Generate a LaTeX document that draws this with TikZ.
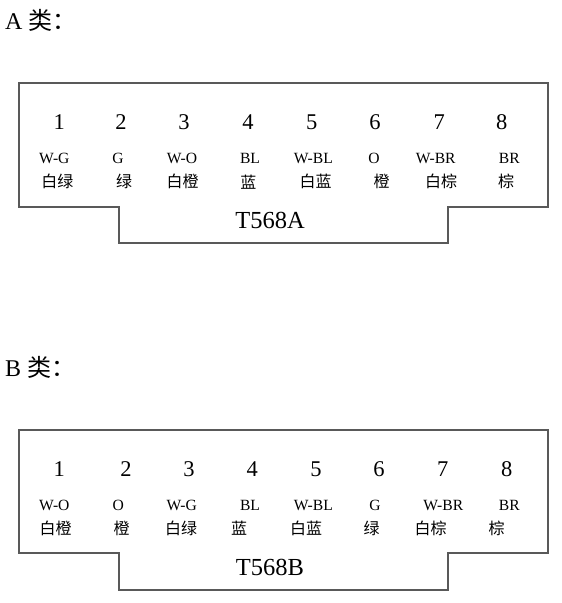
\documentclass[tikz,border=0pt]{standalone}
\usepackage{fontspec}
\setmainfont{Liberation Serif}
\newfontfamily\cjk{Noto Sans CJK SC}
\begin{document}
\begin{tikzpicture}[x=1pt,y=-1pt,
  num/.style={font=\fontsize{22.5}{22.5}\selectfont, anchor=base, inner sep=0pt},
  lab/.style={font=\fontsize{15.6}{15.6}\selectfont, anchor=base, inner sep=0pt},
  cn/.style={font=\cjk\fontsize{16}{16}\selectfont, anchor=center, inner sep=0pt},
  ttl/.style={font=\fontsize{24}{24}\selectfont, anchor=base west, inner sep=0pt},
  std/.style={font=\fontsize{24.5}{24.5}\selectfont, anchor=base, inner sep=0pt},
  outline/.style={draw=black!65, line width=1.2pt}]
\useasboundingbox (0,0) rectangle (562,603);
% ---------- A ----------
\node[ttl] (titleA) at (5,29.3) {A {\cjk 类：}};
\draw[outline] (19,83) -- (548,83) -- (548,207) -- (448,207) -- (448,243)
  -- (119,243) -- (119,207) -- (19,207) -- cycle;
\foreach \x [count=\i] in {59.3,121,184,248,311.7,375,439.3,501.7}
  \node[num] (an\i) at (\x,129.3) {\i};
\foreach \x/\t [count=\i] in {54.3/W-G,118/G,182/W-O,250/BL,313.3/W-BL,374/O,435.7/W-BR,509.3/BR}
  \node[lab] (al\i) at (\x,163.3) {\t};
\foreach \x/\t [count=\i] in {57.3/白绿,124/绿,182.7/白橙,248.3/蓝,315.7/白蓝,381.7/橙,441/白棕,506/棕}
  \node[cn] (ac\i) at (\x,181.7) {\t};
\node[std] (stdA) at (270,228) {T568A};
% ---------- B ----------
\node[ttl] (titleB) at (5,376.7) {B {\cjk 类：}};
\draw[outline] (19,430) -- (548,430) -- (548,553) -- (448,553) -- (448,590)
  -- (119,590) -- (119,553) -- (19,553) -- cycle;
\foreach \x [count=\i] in {59.3,126,189,252.3,316,379,442.7,506.7}
  \node[num] (bn\i) at (\x,476.7) {\i};
\foreach \x/\t [count=\i] in {54.3/W-O,118.3/O,181.7/W-G,250/BL,313.3/W-BL,375/G,443.3/W-BR,509.3/BR}
  \node[lab] (bl\i) at (\x,510) {\t};
\foreach \x/\t [count=\i] in {55.7/白橙,121.7/橙,181/白绿,239/蓝,306/白蓝,371.7/绿,430.7/白棕,496.7/棕}
  \node[cn] (bc\i) at (\x,528.3) {\t};
\node[std] (stdB) at (270,575) {T568B};
\end{tikzpicture}
\end{document}
